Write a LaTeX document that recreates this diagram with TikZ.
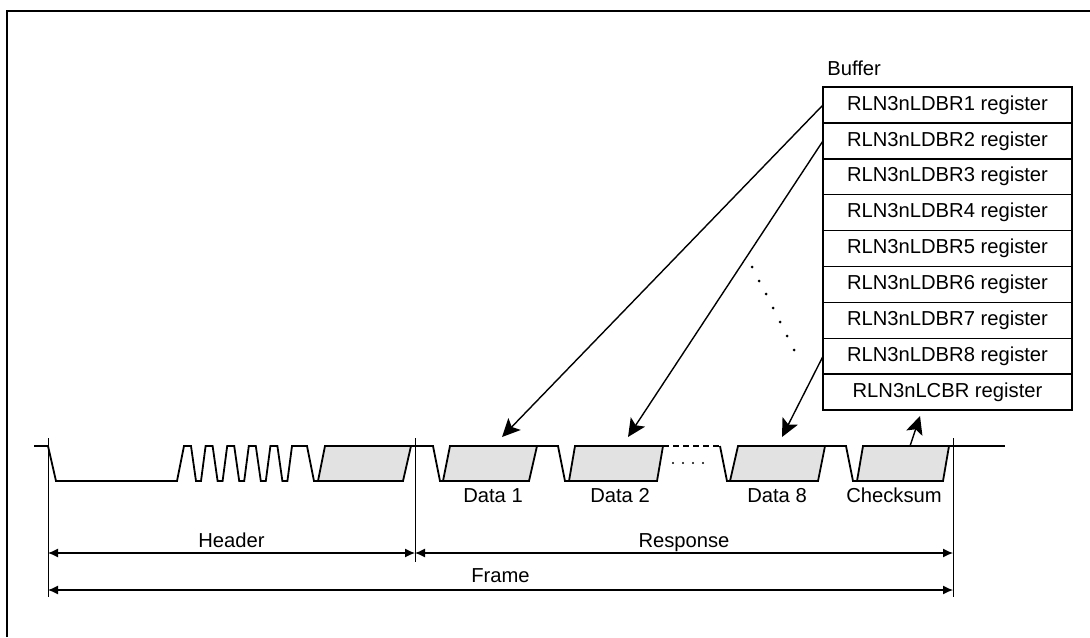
\documentclass[tikz,border=0pt]{standalone}
\usepackage{fontspec}
\setmainfont{Liberation Sans}
\usetikzlibrary{arrows.meta, positioning}
\definecolor{fieldgray}{RGB}{226,226,226}
\tikzset{
  lbl/.style={inner sep=0pt, font=\fontsize{10.1}{12}\selectfont},
  regbox/.style={rectangle, draw=black, line width=0.75pt, minimum width=124.5pt,
    minimum height=17.95pt, inner sep=0pt, outer sep=0pt, font=\fontsize{10.1}{12}\selectfont},
  wave/.style={line width=0.9pt, line join=miter},
  field/.style={fill=fieldgray, draw=black, line width=0.9pt},
  bufarrow/.style={-{Stealth[length=9pt, width=8.5pt, inset=2pt]}, line width=0.7pt},
  dimarrow/.style={{Latex[length=5pt, width=4.5pt]}-{Latex[length=5pt, width=4.5pt]}, line width=0.6pt},
  boundary/.style={line width=0.5pt}
}

\begin{document}
\begin{tikzpicture}[x=0.5pt, y=-0.5pt]
  \useasboundingbox (0,0) rectangle (1090,637);
  \draw[line width=0.85pt] (7,637) -- (7,11) -- (1090,11);

  % buffer registers
  \node[lbl, anchor=base west] (buf) at (827,75) {Buffer};
  \node[regbox, anchor=north west] (reg1) at (823,87) {RLN3nLDBR1 register};
  \node[regbox, below=0pt of reg1] (reg2) {RLN3nLDBR2 register};
  \node[regbox, below=0pt of reg2] (reg3) {RLN3nLDBR3 register};
  \node[regbox, below=0pt of reg3] (reg4) {RLN3nLDBR4 register};
  \node[regbox, below=0pt of reg4] (reg5) {RLN3nLDBR5 register};
  \node[regbox, below=0pt of reg5] (reg6) {RLN3nLDBR6 register};
  \node[regbox, below=0pt of reg6] (reg7) {RLN3nLDBR7 register};
  \node[regbox, below=0pt of reg7] (reg8) {RLN3nLDBR8 register};
  \node[regbox, below=0pt of reg8] (regcs) {RLN3nLCBR register};

  % frame fields
  \draw[field] (318,481) -- (325,446) -- (411,446) -- (403,481) -- cycle;
  \draw[field] (443,481) -- (450,446) -- (537,446) -- (529,481) -- cycle;
  \draw[field] (569,481) -- (575,446) -- (663,446) -- (657,481) -- cycle;
  \draw[field] (730,481) -- (738,446) -- (825,446) -- (818,481) -- cycle;
  \draw[field] (857,481) -- (863,446) -- (949,446) -- (943,481) -- cycle;

  % waveform
  \draw[wave] (34,446) -- (48,446) -- (56,481) -- (177,481) -- (184,446)
    -- (191,446) -- (196,481) -- (201,481) -- (205.6,446)
    -- (212.6,446) -- (217.6,481) -- (222.6,481) -- (227.2,446)
    -- (234.2,446) -- (239.2,481) -- (244.2,481) -- (248.8,446)
    -- (255.8,446) -- (260.8,481) -- (265.8,481) -- (270.4,446)
    -- (277.4,446) -- (282.4,481) -- (287.4,481) -- (292,446)
    -- (307,446) -- (314,481) -- (318,481);
  \draw[wave] (411,446) -- (433,446) -- (440,481) -- (443,481);
  \draw[wave] (537,446) -- (558,446) -- (565,481) -- (569,481);
  \draw[wave, dash pattern=on 3pt off 2pt] (663,446) -- (720,446);
  \draw[wave] (720,446) -- (727,481) -- (730,481);
  \draw[wave] (825,446) -- (846,446) -- (853,481) -- (857,481);
  \draw[wave] (949,446) -- (1005,446);
  \fill (673,463) circle (0.6pt) (683,463) circle (0.6pt)
        (693,463) circle (0.6pt) (703,463) circle (0.6pt);

  % field labels
  \node[lbl, anchor=base] (d1) at (493,502) {Data 1};
  \node[lbl, anchor=base] (d2) at (620,502) {Data 2};
  \node[lbl, anchor=base] (d8) at (777,502) {Data 8};
  \node[lbl, anchor=base] (cs) at (894,502) {Checksum};

  % buffer arrows
  \coordinate (d1tip) at (502,437);
  \coordinate (d2tip) at (628,437);
  \coordinate (d8tip) at (782,437);
  \coordinate (csfoot) at (910,446);
  \coordinate (cstip) at (920,416);
  \draw[bufarrow] (reg1.west) -- (d1tip);
  \draw[bufarrow] (reg2.west) -- (d2tip);
  \draw[bufarrow] (reg8.west) -- (d8tip);
  \draw[bufarrow] (csfoot) -- (cstip);
  \fill (752,267) circle (0.75pt) (759,281) circle (0.75pt) (766,294) circle (0.75pt)
        (773,308) circle (0.75pt) (780,322) circle (0.75pt) (787,336) circle (0.75pt)
        (794,350) circle (0.75pt);

  % frame dimensions
  \coordinate (bL) at (48,438);
  \coordinate (bM) at (415,438);
  \coordinate (bR) at (953,438);
  \draw[boundary] (bL) -- (48,597);
  \draw[boundary] (bM) -- (415,562);
  \draw[boundary] (bR) -- (953,597);
  \draw[dimarrow] (48,553) -- (415,553);
  \draw[dimarrow] (415,553) -- (953,553);
  \draw[dimarrow] (48,590) -- (953,590);
  \node[lbl, anchor=base] (hdr) at (231.5,547) {Header};
  \node[lbl, anchor=base] (rsp) at (684,547) {Response};
  \node[lbl, anchor=base] (frm) at (500.5,582) {Frame};
\end{tikzpicture}
\end{document}
